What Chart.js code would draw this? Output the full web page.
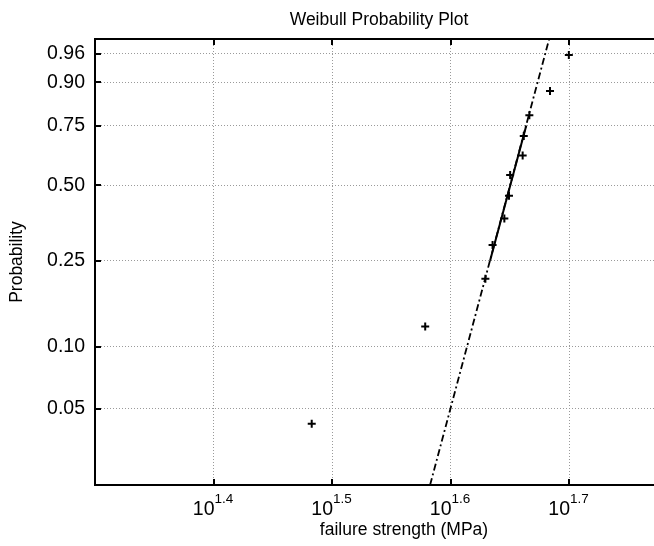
<!DOCTYPE html>
<html>
<head>
<meta charset="utf-8">
<title>Weibull Probability Plot</title>
<script src="https://cdn.jsdelivr.net/npm/chart.js@4/dist/chart.umd.min.js"></script>
<style>
  html, body { margin: 0; padding: 0; background: #fff; overflow: hidden; }
</style>
</head>
<body>
<canvas id="wblChart" width="654" height="546"></canvas>
<script>
'use strict';

// ── Data ─────────────────────────────────────────────────────────────────────
// sorted failure strengths (MPa) and their plotting positions (i - 0.5) / n
const strength    = [30.4, 37.9, 42.6, 43.2, 44.2, 44.6, 44.7, 45.8, 45.9, 46.4, 48.3, 50.1];
const probability = [0.042, 0.125, 0.208, 0.292, 0.375, 0.458, 0.542, 0.625, 0.708, 0.792, 0.875, 0.958];

// fitted reference line: dash-dot across the axes, solid between the quartiles
const fitStrength      = [38.26, 48.22];
const fitProbability   = [0.0208, 0.978];
const quartStrength    = [42.99, 46.12];
const quartProbability = [0.25, 0.75];

// axes
const yTickProbs  = [0.05, 0.10, 0.25, 0.50, 0.75, 0.90, 0.96];
const yLimitProbs = [0.0208, 0.978];
const xTickExps   = [1.4, 1.5, 1.6, 1.7];
const xLimitExps  = [1.3, 1.7717];

const FONT = "'Liberation Sans', Arial, Helvetica, sans-serif";

// ── Helpers ──────────────────────────────────────────────────────────────────
// Weibull probability paper: y = ln(-ln(1 - p))
function wbl(p) { return Math.log(-Math.log(1 - p)); }
function unwbl(w) { return 1 - Math.exp(-Math.exp(w)); }

function toPoints(xs, ps) {
  return xs.map((x, i) => ({ x: x, y: wbl(ps[i]) }));
}

// ── Frame, inward ticks and text ─────────────────────────────────────────────
const matlabAxes = {
  id: 'matlabAxes',
  afterDraw(chart) {
    const { ctx, chartArea: a, scales } = chart;
    const xs = scales.x, ys = scales.y;
    ctx.save();

    ctx.strokeStyle = '#000';
    ctx.lineWidth = 2;
    ctx.beginPath();
    ctx.moveTo(a.right + 2, a.top);
    ctx.lineTo(a.left, a.top);
    ctx.lineTo(a.left, a.bottom);
    ctx.lineTo(a.right + 2, a.bottom);
    ctx.stroke();

    ctx.beginPath();
    xTickExps.forEach(e => {
      const px = Math.round(xs.getPixelForValue(Math.pow(10, e)));
      ctx.moveTo(px, a.bottom); ctx.lineTo(px, a.bottom - 6);
      ctx.moveTo(px, a.top);    ctx.lineTo(px, a.top + 6);
    });
    yTickProbs.forEach(p => {
      const py = Math.round(ys.getPixelForValue(wbl(p)));
      ctx.moveTo(a.left, py); ctx.lineTo(a.left + 6, py);
    });
    ctx.stroke();

    // x tick labels as 10 with a superscript exponent
    ctx.fillStyle = '#000';
    xTickExps.forEach(e => {
      const px = xs.getPixelForValue(Math.pow(10, e));
      ctx.font = '19.5px ' + FONT;
      ctx.textAlign = 'right';
      ctx.textBaseline = 'alphabetic';
      ctx.fillText('10', px + 1, 515);
      ctx.font = '13.5px ' + FONT;
      ctx.textAlign = 'left';
      ctx.fillText(e.toFixed(1), px + 1, 503);
    });

    ctx.textAlign = 'center';
    ctx.textBaseline = 'middle';
    ctx.font = '17.5px ' + FONT;
    ctx.fillText('Weibull Probability Plot', 379, 20);
    ctx.fillText('failure strength (MPa)', 404, 530);

    ctx.translate(17, (a.top + a.bottom) / 2);
    ctx.rotate(-Math.PI / 2);
    ctx.fillText('Probability', 0, 0);

    ctx.restore();
  },
};

// ── Chart ────────────────────────────────────────────────────────────────────
const ctx = document.getElementById('wblChart').getContext('2d');

new Chart(ctx, {
  type: 'scatter',
  data: {
    datasets: [
      {
        label: 'data',
        data: toPoints(strength, probability),
        pointStyle: 'cross',
        pointRadius: 4,
        pointBorderWidth: 2,
        borderColor: '#000',
        backgroundColor: '#000',
        showLine: false,
        order: 0,
      },
      {
        label: 'quartile fit',
        data: toPoints(quartStrength, quartProbability),
        showLine: true,
        pointRadius: 0,
        borderColor: '#000',
        borderWidth: 2,
        order: 1,
      },
      {
        label: 'fit',
        data: toPoints(fitStrength, fitProbability),
        showLine: true,
        pointRadius: 0,
        borderColor: '#000',
        borderWidth: 1.8,
        borderDash: [7, 3, 2, 3],
        order: 2,
      },
    ],
  },
  options: {
    responsive: false,
    animation: false,
    events: [],
    layout: { autoPadding: false, padding: { top: 39, right: 0, left: 0, bottom: 0 } },
    plugins: {
      legend: { display: false },
      tooltip: { enabled: false },
      title: { display: false },
    },
    scales: {
      x: {
        type: 'logarithmic',
        min: Math.pow(10, xLimitExps[0]),
        max: Math.pow(10, xLimitExps[1]),
        afterBuildTicks: s => { s.ticks = xTickExps.map(e => ({ value: Math.pow(10, e) })); },
        afterFit: s => { s.height = 61; },
        ticks: { display: false },
        grid: { color: '#9a9a9a', lineWidth: 1, drawTicks: false },
        border: { display: false, dash: [1, 2] },
      },
      y: {
        type: 'linear',
        min: wbl(yLimitProbs[0]),
        max: wbl(yLimitProbs[1]),
        afterBuildTicks: s => { s.ticks = yTickProbs.map(p => ({ value: wbl(p) })); },
        afterFit: s => { s.width = 95; },
        ticks: {
          color: '#000',
          padding: 10,
          font: { family: FONT, size: 19.5 },
          callback: v => unwbl(v).toFixed(2),
        },
        grid: { color: '#9a9a9a', lineWidth: 1, drawTicks: false },
        border: { display: false, dash: [1, 2] },
      },
    },
  },
  plugins: [matlabAxes],
});
</script>
</body>
</html>
